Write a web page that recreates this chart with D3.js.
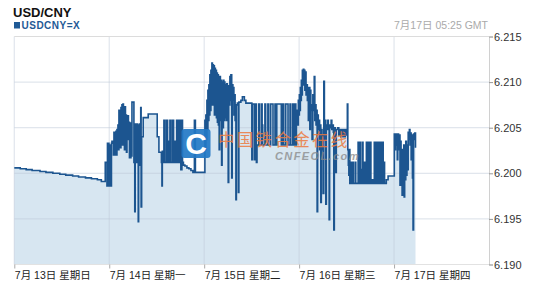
<!DOCTYPE html>
<html><head><meta charset="utf-8">
<script src="https://cdn.jsdelivr.net/npm/d3@7"></script>
<style>
body{margin:0;background:#fff}
svg{display:block}
text{font-family:"Liberation Sans",Arial,"Noto Sans CJK SC",sans-serif}
</style>
</head><body><svg id="c" width="535" height="293"></svg>
<script>
// ---- data: [hours since 7/13 00:00, USD/CNY rate] ----
const sun=[[0,6.2006],[1.5,6.2005],[3,6.2004],[4.5,6.2003],[6.5,6.2002],[8,6.2001],[9.75,6.2000],[11.5,6.1999],[13,6.1998],[14.75,6.1997],[16.25,6.1996],[18,6.1995],[19.5,6.1994],[21,6.1993],[22,6.1991],[22.99,6.2012],[23.42,6.1986],[23.55,6.2033],[23.67,6.1986],[23.80,6.2033],[23.93,6.1986]];
const mon=[[24.05,6.2031],[24.18,6.1986],[24.30,6.2026],[24.43,6.1986],[24.56,6.2033],[24.68,6.2035],[25.06,6.2020],[25.19,6.2045],[25.32,6.2020],[25.44,6.2044],[25.57,6.2023],[25.69,6.2046],[25.82,6.2020],[25.95,6.2048],[26.07,6.2026],[26.20,6.2053],[26.33,6.2026],[26.45,6.2069],[26.58,6.2037],[26.71,6.2061],[26.83,6.2028],[26.96,6.2072],[27.09,6.2042],[27.21,6.2075],[27.34,6.2031],[27.46,6.2076],[27.59,6.2048],[27.72,6.2069],[27.84,6.2026],[27.97,6.2073],[28.10,6.2037],[28.22,6.2064],[28.35,6.2023],[28.48,6.2061],[28.60,6.2037],[28.73,6.2063],[28.85,6.2042],[28.98,6.2056],[29.11,6.2017],[29.23,6.2055],[29.36,6.2017],[29.49,6.2053],[29.61,6.2019],[29.74,6.2078],[30.24,6.2012],[30.45,6.1958],[30.57,6.2054],[30.70,6.2012],[30.82,6.2054],[30.95,6.2015],[31.08,6.2054],[31.20,6.2012],[31.33,6.1947],[31.43,6.2053],[31.58,6.2009],[31.71,6.2054],[31.83,6.2009],[31.96,6.2072],[32.06,6.1963],[32.19,6.2040],[32.59,6.2061],[33.85,6.2065],[36.13,6.2040],[36.56,6.2023],[37.19,6.2012],[37.32,6.1986],[37.42,6.2024],[37.57,6.2012],[37.82,6.2058],[38.07,6.2012],[38.50,6.2058],[38.75,6.2012],[39.00,6.2035],[39.12,6.2012],[39.34,6.2058],[39.59,6.2012],[40.02,6.2058],[40.27,6.2012],[40.60,6.2035],[40.72,6.2012],[41.03,6.2058],[41.30,6.2012],[41.45,6.2058],[41.70,6.2012],[41.90,6.2058],[42.10,6.2004],[42.37,6.2058],[42.52,6.2012],[42.75,6.2009],[43.13,6.2008],[43.64,6.2006],[44.14,6.2005],[44.65,6.2003],[45.15,6.2001],[45.53,6.2058],[45.78,6.2001]];
const tue=[[48.18,6.2058],[48.31,6.2026],[48.43,6.2064],[48.56,6.2037],[48.69,6.2080],[48.81,6.2048],[48.94,6.2091],[49.07,6.2058],[49.19,6.2097],[49.32,6.2064],[49.44,6.2108],[49.57,6.2069],[49.70,6.2113],[49.82,6.2075],[49.95,6.2121],[50.08,6.2080],[50.20,6.2119],[50.33,6.2075],[50.45,6.2118],[50.58,6.2064],[50.71,6.2115],[50.83,6.2069],[50.96,6.2113],[51.09,6.2061],[51.21,6.2110],[51.34,6.2056],[51.47,6.2108],[51.59,6.2053],[51.79,6.2026],[51.92,6.2106],[52.10,6.2058],[52.22,6.2102],[52.40,6.2009],[52.53,6.2100],[52.73,6.2050],[52.86,6.2102],[52.98,6.2058],[53.11,6.2100],[53.23,6.2061],[53.36,6.2097],[53.56,6.2058],[53.69,6.2098],[53.86,6.2069],[54.07,6.1990],[54.20,6.2096],[54.38,6.2075],[54.50,6.2106],[54.63,6.2080],[54.75,6.2108],[54.96,6.1995],[55.08,6.2097],[55.26,6.2080],[55.39,6.2094],[55.51,6.2064],[55.64,6.2086],[55.82,6.2058],[56.02,6.1971],[56.14,6.2075],[56.39,6.2077],[56.65,6.1979],[56.77,6.2078],[57.28,6.2080],[57.66,6.2084],[58.16,6.2080],[58.54,6.2077],[60.05,6.2015],[60.20,6.2076],[60.70,6.2015],[60.85,6.2076],[61.20,6.2012],[61.35,6.2031],[61.80,6.2076],[62.00,6.2031],[62.50,6.2076],[62.65,6.2053],[62.80,6.2031],[63.35,6.2076],[63.55,6.2031],[64.10,6.2076],[64.30,6.2031],[64.80,6.2076],[65.40,6.2031],[65.90,6.2076],[66.10,6.2031],[66.35,6.2076],[67.50,6.2031],[67.90,6.2076],[68.10,6.2031],[68.60,6.2076],[69.20,6.2031],[69.70,6.2076],[69.90,6.2031],[70.40,6.2076],[70.60,6.2031],[71.00,6.2076],[71.17,6.2031],[71.32,6.2057],[71.55,6.2069],[71.68,6.2053],[71.80,6.2080],[71.93,6.2064]];
const wed=[[72.06,6.2086],[72.18,6.2069],[72.31,6.2094],[72.44,6.2080],[72.56,6.2102],[72.69,6.2086],[72.82,6.2113],[72.94,6.2102],[73.07,6.2114],[73.19,6.2097],[73.32,6.2113],[73.45,6.2091],[73.57,6.2111],[73.75,6.2086],[73.90,6.2097],[74.08,6.2080],[74.21,6.2094],[74.33,6.2058],[74.46,6.2094],[74.71,6.2048],[74.84,6.2091],[74.96,6.2069],[75.14,6.2075],[75.27,6.2037],[75.47,6.2086],[75.67,6.2069],[75.82,6.2106],[75.97,6.2058],[76.12,6.2075],[76.27,6.2053],[76.42,6.2069],[76.55,6.1958],[76.68,6.2064],[76.85,6.2048],[76.98,6.2058],[77.18,6.2026],[77.31,6.2053],[77.48,6.1968],[77.61,6.2048],[77.79,6.2026],[77.94,6.2042],[78.07,6.1978],[78.24,6.2101],[78.39,6.2037],[78.57,6.2058],[78.75,6.1966],[78.88,6.2053],[79.08,6.2048],[79.26,6.2058],[79.38,6.2050],[79.59,6.1949],[79.71,6.2053],[79.89,6.2050],[80.09,6.2058],[80.27,6.2048],[80.47,6.2053],[80.65,6.2045],[80.77,6.1938],[80.90,6.2050],[81.15,6.2048],[81.28,6.2001],[81.40,6.2048],[81.78,6.2050],[82.03,6.2042],[82.29,6.2048],[82.54,6.2040],[82.92,6.2048],[83.30,6.2040],[83.68,6.2048],[84.06,6.2042],[84.19,6.2076],[84.31,6.2026],[84.44,6.2009],[84.57,6.1998],[84.69,6.2026],[84.82,6.1989],[85.07,6.2012],[85.20,6.1989],[85.60,6.2012],[85.72,6.1989],[86.20,6.2012],[86.32,6.1989],[86.91,6.2034],[87.05,6.1989],[87.40,6.2034],[87.52,6.2004],[87.65,6.1989],[88.00,6.2034],[88.15,6.1989],[88.55,6.2012],[88.67,6.1989],[89.00,6.2034],[89.15,6.1989],[89.50,6.2034],[89.62,6.2012],[89.80,6.1989],[90.00,6.2034],[90.15,6.1993],[90.37,6.1989],[90.75,6.1993],[91.00,6.2034],[91.12,6.1989],[91.30,6.2034],[91.42,6.1989],[91.60,6.2034],[91.72,6.1989],[91.90,6.2034],[92.02,6.1989],[92.20,6.2034],[92.32,6.1989],[92.50,6.2034],[92.70,6.2012],[92.90,6.1989],[93.10,6.2034],[93.25,6.1989],[93.48,6.2012],[93.60,6.1989],[94.04,6.1993],[94.49,6.1997]];
const thu=[[96.06,6.2043],[96.23,6.2026],[96.39,6.2043],[96.54,6.2031],[96.69,6.2042],[96.82,6.2015],[96.94,6.2043],[97.14,6.2026],[97.32,6.2042],[97.50,6.1987],[97.62,6.2035],[97.77,6.2004],[97.90,6.2026],[98.03,6.1976],[98.15,6.2026],[98.30,6.1998],[98.45,6.2031],[98.55,6.1974],[98.68,6.2026],[98.83,6.1993],[98.96,6.2035],[99.11,6.1998],[99.26,6.2031],[99.41,6.2004],[99.57,6.2045],[99.72,6.2037],[99.87,6.2048],[100.02,6.2031],[100.17,6.2044],[100.32,6.2015],[100.47,6.2042],[100.65,6.1995],[100.80,6.1938],[100.93,6.2043],[101.10,6.2037],[101.23,6.2044],[101.42,6.2028]];

const dayTicks=[0,24,48,72,96];
const dayLabels=["7月 13日 星期日","7月 14日 星期一","7月 15日 星期二","7月 16日 星期三","7月 17日 星期四"];
const rateTicks=[6.190,6.195,6.200,6.205,6.210,6.215];
const titleText="USD/CNY", symbolText="USDCNY=X", stampText="7月17日 05:25 GMT";
const watermarkCN="中国铁合金在线", watermarkEN="CNFEOL.com";

// ---- drawing ----
const data=[...sun,...mon,...tue,...wed,...thu].map(d=>({h:d[0],v:d[1]}));
const svg=d3.select("#c");
const x=d3.scaleLinear().domain([0,120]).range([14.3,489]);
const y=d3.scaleLinear().domain([6.19,6.215]).range([264.5,36.5]);
const [x0,x1]=x.range(), [yb,yt]=y.range();

// header
svg.append("text").attr("x",13).attr("y",16.5).attr("font-size",13).attr("font-weight","bold").attr("fill","#111").text(titleText);
svg.append("rect").attr("x",14).attr("y",22).attr("width",6).attr("height",6.5).attr("fill","#1f5a96");
svg.append("text").attr("x",21.5).attr("y",29).attr("font-size",10).attr("font-weight","bold").attr("letter-spacing",0.5).attr("fill","#1f5a96").text(symbolText);
svg.append("text").attr("x",488).attr("y",29).attr("text-anchor","end").attr("font-size",10.5).attr("fill","#aaa").text(stampText);

// area fill
const area=d3.area().x(d=>x(d.h)).y0(y(6.19)).y1(d=>y(d.v)).curve(d3.curveStepAfter);
svg.append("path").datum(data).attr("d",area).attr("fill","#d7e6f1");

// grid
const g=svg.append("g");
g.selectAll("line.h").data(rateTicks.slice(1,-1)).join("line")
 .attr("x1",x0).attr("x2",x1).attr("y1",d=>y(d)).attr("y2",d=>y(d))
 .attr("stroke","#bcc8d8").attr("stroke-opacity",0.45).attr("stroke-width",1.2);
g.selectAll("line.v").data(dayTicks).join("line")
 .attr("x1",d=>x(d)).attr("x2",d=>x(d)).attr("y1",yt).attr("y2",yb)
 .attr("stroke","#bcc8d8").attr("stroke-opacity",0.45).attr("stroke-width",1.2);
// borders
svg.append("line").attr("x1",x0).attr("x2",x1).attr("y1",yt).attr("y2",yt).attr("stroke","#dcdcdc");
svg.append("line").attr("x1",x0).attr("x2",x1).attr("y1",yb).attr("y2",yb).attr("stroke","#e2e2e2");

// line
const line=d3.line().x(d=>x(d.h)).y(d=>y(d.v)).curve(d3.curveStepAfter);
svg.append("path").datum(data).attr("d",line).attr("fill","none")
 .attr("stroke","#1c5590").attr("stroke-width",1.6).attr("stroke-linejoin","miter");

// watermark
const wm=svg.append("g");
wm.append("rect").attr("x",181.5).attr("y",129).attr("width",29).attr("height",29).attr("rx",3)
 .attr("fill","#2278c6").attr("opacity",0.92);
wm.append("text").attr("x",196).attr("y",154).attr("text-anchor","middle").attr("font-size",30)
 .attr("font-weight","bold").attr("fill","#fff").text("C");
wm.append("text").attr("x",218).attr("y",146).attr("font-size",16.5).attr("letter-spacing",2.3)
 .attr("font-family","Noto Sans CJK SC").attr("fill","#ec7a40").attr("opacity",0.85).text(watermarkCN);
wm.append("text").attr("x",275).attr("y",160).attr("font-size",11).attr("font-weight","bold")
 .attr("font-style","italic").attr("letter-spacing",1.4).attr("fill","#888").attr("opacity",0.75).text(watermarkEN);

// right axis
const ya=d3.axisRight(y).tickValues(rateTicks).tickSize(4).tickPadding(1).tickFormat(d3.format(".3f"));
const yg=svg.append("g").attr("transform",`translate(${x1},0)`).call(ya);
yg.select(".domain").attr("stroke","#d0d0d0");
yg.selectAll(".tick line").attr("stroke","#999");
yg.selectAll(".tick text").attr("font-size",11).attr("fill","#333").attr("font-family",null);

// bottom axis
const xa=d3.axisBottom(x).tickValues(dayTicks).tickSize(4).tickFormat((d,i)=>dayLabels[i]);
const xg=svg.append("g").attr("transform",`translate(0,${yb})`).call(xa);
xg.select(".domain").remove();
xg.selectAll(".tick line").attr("stroke","#aaa");
xg.selectAll(".tick text").attr("text-anchor","start").attr("y",7).attr("dy","0.71em")
 .attr("font-size",10.5).attr("fill","#222").attr("font-family",null);
</script>
</body></html>
